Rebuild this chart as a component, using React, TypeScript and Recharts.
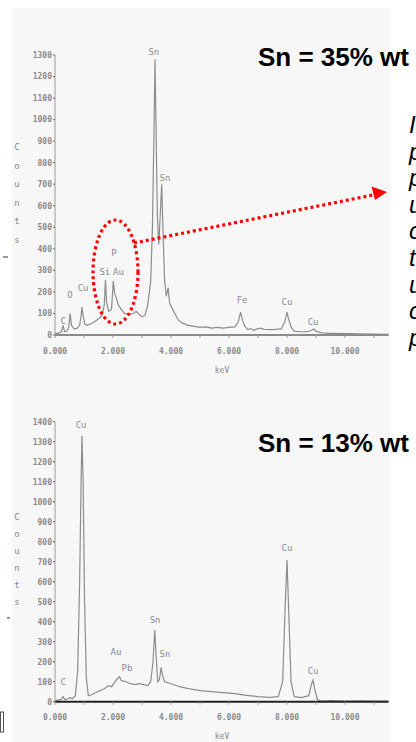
import React from 'react';
import { LineChart, Line, XAxis, YAxis, ReferenceDot } from 'recharts';

// spectrum 1 (Sn = 35% wt)
const topKev = [
  0.0, 0.15, 0.22, 0.28, 0.33, 0.42, 0.48, 0.52, 0.57, 0.65, 0.75, 0.85, 0.9, 0.93, 0.97,
  1.03, 1.1, 1.2, 1.35, 1.5, 1.62, 1.7, 1.74, 1.78, 1.85, 1.95, 2.01, 2.06, 2.12, 2.18,
  2.28, 2.4, 2.55, 2.7, 2.8, 2.9, 3.0, 3.1, 3.2, 3.3, 3.36, 3.42, 3.45, 3.48, 3.53, 3.58,
  3.63, 3.68, 3.72, 3.78, 3.84, 3.9, 3.95, 4.05, 4.15, 4.25, 4.4, 4.6, 4.8, 5.0, 5.2, 5.4,
  5.6, 5.8, 6.0, 6.2, 6.32, 6.4, 6.46, 6.55, 6.65, 6.75, 6.85, 7.0, 7.1, 7.2, 7.5, 7.8,
  7.92, 8.0, 8.06, 8.15, 8.25, 8.45, 8.7, 8.85, 8.92, 9.0, 9.2, 9.5, 10.0, 10.5, 11.0, 11.5,
];
const topCounts = [
  5, 10, 15, 45, 15, 20, 40, 100, 45, 30, 30, 45, 90, 130, 90,
  50, 45, 50, 60, 75, 90, 140, 255, 150, 110, 120, 250, 190, 170, 140,
  120, 100, 95, 100, 110, 95, 85, 90, 140, 250, 500, 1000, 1280, 1000, 550, 420,
  560, 700, 500, 250, 180, 220, 150, 120, 95, 70, 55, 45, 40, 35, 38, 32,
  35, 32, 35, 38, 60, 106, 70, 40, 25, 30, 22, 30, 32, 26, 25, 28,
  60, 106, 70, 35, 18, 15, 15, 22, 28, 18, 10, 8, 6, 5, 4, 3,
];

// spectrum 2 (Sn = 13% wt)
const bottomKev = [
  0.0, 0.2, 0.28, 0.35, 0.45, 0.52, 0.6, 0.7, 0.78, 0.85, 0.9, 0.93, 0.97, 1.02, 1.08,
  1.15, 1.25, 1.4, 1.55, 1.7, 1.85, 1.95, 2.05, 2.15, 2.22, 2.3, 2.45, 2.6, 2.75, 2.9,
  3.05, 3.2, 3.3, 3.38, 3.44, 3.48, 3.54, 3.6, 3.66, 3.71, 3.78, 3.9, 4.1, 4.3, 4.6, 5.0,
  5.4, 5.8, 6.2, 6.6, 7.0, 7.4, 7.7, 7.85, 7.93, 8.0, 8.06, 8.14, 8.25, 8.5, 8.75, 8.85,
  8.9, 8.96, 9.05, 9.2, 9.5, 10.0, 10.5, 11.0, 11.5,
];
const bottomCounts = [
  5, 10, 25, 10, 15, 20, 15, 30, 150, 600, 1100, 1330, 1100, 500, 120,
  30, 35, 45, 55, 65, 80, 75, 95, 115, 125, 105, 100, 90, 85, 90,
  85, 80, 100, 200, 358, 250, 100, 110, 170, 130, 100, 95, 85, 75, 65, 55,
  50, 45, 40, 32, 25, 22, 25, 100, 450, 708, 450, 100, 25, 20, 30, 90,
  108, 60, 10, 3, 5, 3, 4, 3, 3,
];

const xTicks = [0, 1, 2, 3, 4, 5, 6, 7, 8, 9, 10, 11];
const xTickLabels: Record<number, string> = {
  0: '0.000', 2: '2.000', 4: '4.000', 6: '6.000', 8: '8.000', 10: '10.000',
};
const topYTicks = [0, 100, 200, 300, 400, 500, 600, 700, 800, 900, 1000, 1100, 1200, 1300];
const bottomYTicks = [0, 100, 200, 300, 400, 500, 600, 700, 800, 900, 1000, 1100, 1200, 1300, 1400];

const topPeaks = [
  { name: 'Sn', kev: 3.41, counts: 1317 },
  { name: 'Sn', kev: 3.79, counts: 730 },
  { name: 'C', kev: 0.28, counts: 65 },
  { name: 'O', kev: 0.52, counts: 186 },
  { name: 'Cu', kev: 0.97, counts: 219 },
  { name: 'Si', kev: 1.72, counts: 293 },
  { name: 'P', kev: 2.03, counts: 382 },
  { name: 'Au', kev: 2.19, counts: 293 },
  { name: 'Fe', kev: 6.45, counts: 163 },
  { name: 'Cu', kev: 8.0, counts: 154 },
  { name: 'Cu', kev: 8.9, counts: 60 },
];
const bottomPeaks = [
  { name: 'Cu', kev: 0.9, counts: 1383 },
  { name: 'C', kev: 0.28, counts: 98 },
  { name: 'Au', kev: 2.1, counts: 248 },
  { name: 'Pb', kev: 2.48, counts: 168 },
  { name: 'Sn', kev: 3.45, counts: 408 },
  { name: 'Sn', kev: 3.79, counts: 238 },
  { name: 'Cu', kev: 8.0, counts: 768 },
  { name: 'Cu', kev: 8.9, counts: 153 },
];

const sideLetters = ['I', 'p', 'p', 'u', 'c', 't', 'u', 'c', 'p'];
const countsLetters = ['C', 'o', 'u', 'n', 't', 's'];

const pixFont = 'DejaVu Sans Mono';
const tickStyle = { fill: '#8a8a8a', fontSize: 8, fontFamily: pixFont, fontWeight: 'bold' };

type SpectrumProps = {
  kev: number[];
  counts: number[];
  yMax: number;
  yTicks: number[];
  peaks: { name: string; kev: number; counts: number }[];
  top: number;
  height: number;
  marginTop: number;
  marginBottom: number;
  axisColor: string;
};

const Spectrum: React.FC<SpectrumProps> = ({
  kev, counts, yMax, yTicks, peaks, top, height, marginTop, marginBottom, axisColor,
}) => {
  const data = kev.map((k, i) => ({ kev: k, counts: counts[i] }));
  return (
    <div style={{ position: 'absolute', left: 0, top }}>
      <LineChart
        width={416}
        height={height}
        data={data}
        margin={{ top: marginTop, right: 27.5, left: 0, bottom: marginBottom }}
      >
        <XAxis
          dataKey="kev"
          type="number"
          domain={[0, 11.5]}
          ticks={xTicks}
          tickFormatter={(v: number) => xTickLabels[v] ?? ''}
          tick={tickStyle}
          tickSize={3}
          tickMargin={10}
          axisLine={{ stroke: axisColor, strokeWidth: 2 }}
          tickLine={{ stroke: '#999' }}
          interval={0}
        />
        <YAxis
          type="number"
          domain={[0, yMax]}
          ticks={yTicks}
          width={55}
          tick={tickStyle}
          tickSize={2}
          tickMargin={1}
          interval={0}
          axisLine={{ stroke: '#9a9a9a' }}
          tickLine={{ stroke: '#666' }}
        />
        <Line
          type="linear"
          dataKey="counts"
          stroke="#8c8c8c"
          strokeWidth={1.2}
          dot={false}
          isAnimationActive={false}
        />
        {peaks.map((p, i) => (
          <ReferenceDot
            key={i}
            x={p.kev}
            y={p.counts}
            r={0}
            fill="none"
            stroke="none"
            ifOverflow="visible"
            label={{ value: p.name, position: 'center', fill: '#8a8a8a', fontSize: 9, fontFamily: pixFont }}
          />
        ))}
      </LineChart>
    </div>
  );
};

export default function App() {
  return (
    <div style={{ position: 'absolute', left: 0, top: 0, width: 416, height: 742, background: '#fff', overflow: 'hidden' }}>
      <div style={{ position: 'absolute', left: 12, top: 8, width: 378, height: 734, background: '#f7f7f7' }} />
      <Spectrum
        kev={topKev}
        counts={topCounts}
        yMax={1300}
        yTicks={topYTicks}
        peaks={topPeaks}
        top={0}
        height={380}
        marginTop={55}
        marginBottom={15}
        axisColor="#8a8a8a"
      />
      <Spectrum
        kev={bottomKev}
        counts={bottomCounts}
        yMax={1400}
        yTicks={bottomYTicks}
        peaks={bottomPeaks}
        top={380}
        height={362}
        marginTop={41.7}
        marginBottom={10.3}
        axisColor="#222"
      />
      <svg width={416} height={742} style={{ position: 'absolute', left: 0, top: 0, pointerEvents: 'none' }}>
        <text x={258} y={66} fontFamily="Liberation Sans, Arial, sans-serif" fontWeight="bold" fontSize={26} fill="#000">
          Sn = 35% wt
        </text>
        <text x={258} y={452} fontFamily="Liberation Sans, Arial, sans-serif" fontWeight="bold" fontSize={26} fill="#000">
          Sn = 13% wt
        </text>
        {sideLetters.map((c, i) => (
          <text key={i} x={409} y={133 + i * 26.6} fontFamily="Liberation Sans, Arial, sans-serif" fontStyle="italic" fontSize={24} fill="#000">
            {c}
          </text>
        ))}
        {countsLetters.map((c, i) => (
          <text key={'a' + i} x={17} y={150 + i * 18.5} textAnchor="middle" fontFamily={pixFont} fontSize={9} fill="#8a8a8a">
            {c}
          </text>
        ))}
        {countsLetters.map((c, i) => (
          <text key={'b' + i} x={17} y={520 + i * 17} textAnchor="middle" fontFamily={pixFont} fontSize={9} fill="#8a8a8a">
            {c}
          </text>
        ))}
        <text x={222} y={373} textAnchor="middle" fontFamily={pixFont} fontSize={8} fill="#8a8a8a">keV</text>
        <text x={222} y={739} textAnchor="middle" fontFamily={pixFont} fontSize={8} fill="#8a8a8a">keV</text>
        <ellipse cx={115.5} cy={272} rx={22.5} ry={52} fill="none" stroke="#f00" strokeWidth={3.2} strokeDasharray="3 3" />
        <line x1={134} x2={373} y1={243} y2={195} stroke="#f00" strokeWidth={3.2} strokeDasharray="3 3" />
        <polygon points="387,192 371.5,186.5 375,200" fill="#f00" />
        <line x1={3} x2={8} y1={257} y2={257} stroke="#333" strokeWidth={1} />
        <line x1={7} x2={10} y1={618} y2={618} stroke="#333" strokeWidth={1} />
        <rect x={0.5} y={712} width={3} height={20} fill="none" stroke="#555" strokeWidth={1} />
      </svg>
    </div>
  );
}
